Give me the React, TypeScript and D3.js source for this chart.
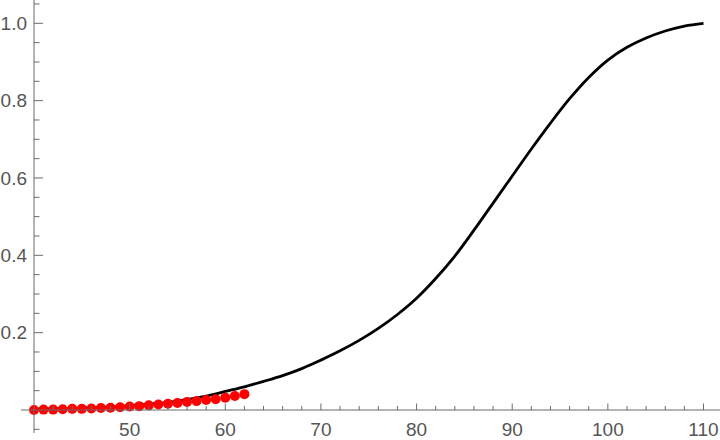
import React from "react";
import * as d3 from "d3";

const curveX = [40, 42, 44, 46, 48, 50, 52, 54, 56, 58, 60, 62, 64, 66, 68, 70, 72, 74, 76, 78, 80, 82, 84, 86, 88, 90, 92, 94, 96, 98, 100, 102, 104, 106, 108, 110];
const curveY = [0.002, 0.003, 0.004, 0.006, 0.008, 0.011, 0.015, 0.020, 0.027, 0.036, 0.048, 0.060, 0.074, 0.089, 0.107, 0.129, 0.153, 0.180, 0.211, 0.247, 0.289, 0.340, 0.398, 0.465, 0.535, 0.605, 0.675, 0.742, 0.805, 0.860, 0.905, 0.938, 0.962, 0.980, 0.993, 1.0];

const dotX = [40, 41, 42, 43, 44, 45, 46, 47, 48, 49, 50, 51, 52, 53, 54, 55, 56, 57, 58, 59, 60, 61, 62];
const dotY = [0.000, 0.001, 0.001, 0.002, 0.003, 0.003, 0.004, 0.005, 0.006, 0.007, 0.009, 0.010, 0.012, 0.014, 0.016, 0.018, 0.021, 0.023, 0.026, 0.028, 0.032, 0.036, 0.041];

const xMajor = [50, 60, 70, 80, 90, 100, 110];
const yMajor = [0.2, 0.4, 0.6, 0.8, 1.0];

export default function App() {
  const W = 720;
  const H = 440;
  const x = d3.scaleLinear().domain([40, 110]).range([34, 703.5]);
  const y = d3.scaleLinear().domain([0, 1]).range([410, 23.3]);

  const xMinor = d3.range(42, 111, 2).filter((v) => v % 10 !== 0);
  const yMinor = d3.range(-1, 22).map((i) => i * 0.05).filter((v) => Math.abs(v * 5 - Math.round(v * 5)) > 1e-6);

  const line = d3
    .line<number>()
    .x((_, i) => x(curveX[i]))
    .y((d) => y(d))
    .curve(d3.curveCatmullRom.alpha(0.5));

  const axisColor = "#6b6b6b";
  const textColor = "#555555";
  const font = "'Liberation Sans', Arial, sans-serif";

  return (
    <svg width={W} height={H} style={{ position: "absolute", left: 0, top: 0, background: "#fff" }}>
      {/* curve */}
      <path d={line(curveY) || ""} fill="none" stroke="#000" strokeWidth={2.8} strokeLinejoin="round" />
      {/* dots */}
      {dotX.map((v, i) => (
        <circle key={"d" + i} cx={x(v)} cy={y(dotY[i])} r={5} fill="#ff0000" />
      ))}
      {/* x axis */}
      <line x1={21} x2={720} y1={y(0)} y2={y(0)} stroke={axisColor} strokeWidth={1} />
      {xMajor.map((v) => (
        <line key={"xM" + v} x1={x(v)} x2={x(v)} y1={y(0)} y2={y(0) - 6.5} stroke={axisColor} strokeWidth={1} />
      ))}
      {xMinor.map((v) => (
        <line key={"xm" + v} x1={x(v)} x2={x(v)} y1={y(0)} y2={y(0) - 4} stroke={axisColor} strokeWidth={1} />
      ))}
      {xMajor.map((v) => (
        <text key={"xt" + v} x={x(v)} y={436} textAnchor="middle" fontFamily={font} fontSize={19} fill={textColor}>
          {v}
        </text>
      ))}
      {/* y axis */}
      <line x1={x(40)} x2={x(40)} y1={0} y2={433} stroke={axisColor} strokeWidth={1} />
      {yMajor.map((v) => (
        <line key={"yM" + v} x1={x(40)} x2={x(40) + 9} y1={y(v)} y2={y(v)} stroke={axisColor} strokeWidth={1} />
      ))}
      {yMinor.map((v, i) => (
        <line key={"ym" + i} x1={x(40)} x2={x(40) + 5.5} y1={y(v)} y2={y(v)} stroke={axisColor} strokeWidth={1} />
      ))}
      {yMajor.map((v) => (
        <text key={"yt" + v} x={27} y={y(v)} dy="0.35em" textAnchor="end" fontFamily={font} fontSize={19} fill={textColor}>
          {v.toFixed(1)}
        </text>
      ))}
    </svg>
  );
}
